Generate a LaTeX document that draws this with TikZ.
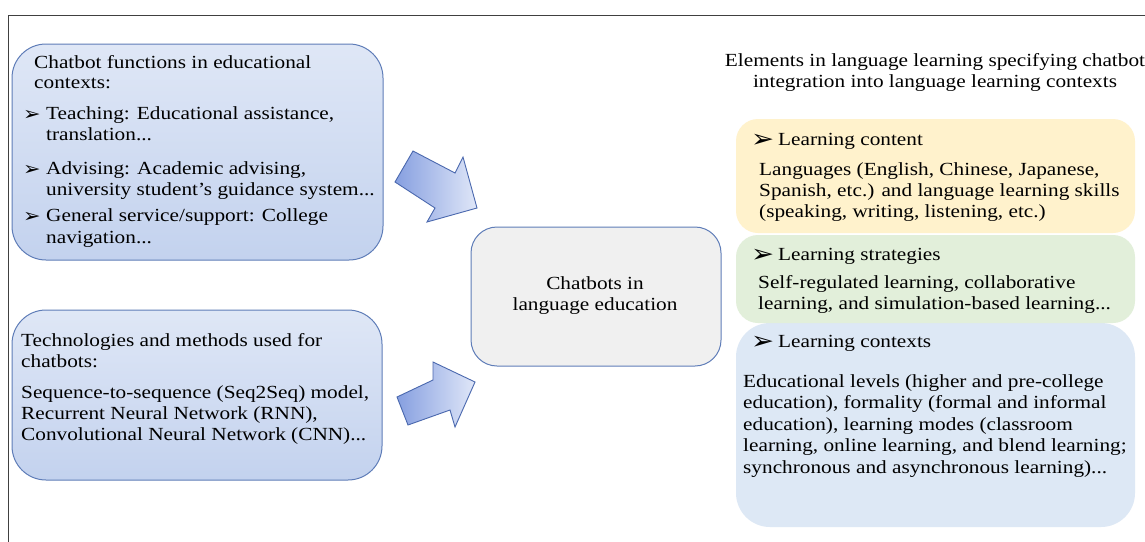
\documentclass[tikz,border=0pt]{standalone}
\usepackage{fontspec}
\setmainfont[FakeStretch=1.15]{Liberation Serif}
\newfontfamily\dejavu[FakeStretch=1.1]{DejaVu Sans}
\definecolor{frame}{HTML}{404040}
\definecolor{boxborder}{HTML}{5F7DB8}
\definecolor{boxtop}{HTML}{DFE7F6}
\definecolor{boxmid}{HTML}{E6ECF8}
\definecolor{boxbot}{HTML}{C3D2EE}
\definecolor{arrdark}{HTML}{869FE0}
\definecolor{arrlight}{HTML}{E0E7F8}
\definecolor{arrborder}{HTML}{4A68AE}
\definecolor{centerfill}{HTML}{F0F0F0}
\definecolor{yel}{HTML}{FFF2CC}
\definecolor{grn}{HTML}{E2EFDA}
\definecolor{blu}{HTML}{DDE8F5}
\tikzset{
  txt/.style={font=\fontsize{18.5}{20}\selectfont, inner sep=0pt, anchor=base west},
  ctxt/.style={txt, anchor=base},
  bul/.style={font=\dejavu\fontsize{19}{19}\selectfont, inner sep=0pt, anchor=base west},
  bbul/.style={font=\dejavu\fontsize{25}{25}\selectfont, inner sep=0pt, anchor=base west},
  bluebox/.style={draw=boxborder, line width=1pt, top color=boxtop, middle color=boxmid, bottom color=boxbot, rounded corners=34pt},
  blockarrow/.style={draw=arrborder, line width=0.9pt, left color=arrdark, right color=arrlight, line join=miter},
}
\begin{document}
\begin{tikzpicture}[x=1pt,y=-1pt]
\useasboundingbox (0,0) rectangle (1145,541);
\clip (0,0) rectangle (1145,541);
\fill[white] (0,0) rectangle (1145,541);
% outer frame
\draw[frame, line width=0.9pt] (8.5,15) rectangle (1160,560);

% left boxes
\path[bluebox] (12,44) rectangle (383,260);
\path[bluebox] (12,310) rectangle (382,480);
% center box
\path[draw=boxborder, line width=1pt, fill=centerfill, rounded corners=26pt] (471,227) rectangle (721,366);

% right boxes
\fill[blu, rounded corners=34pt] (736,323) rectangle (1135,527);
\fill[grn, rounded corners=22pt] (736,235) rectangle (1135,323);
\fill[yel, rounded corners=22pt] (736,119) rectangle (1135,233);

% block arrows
\path[blockarrow] (395,182) -- (413,151) -- (455,173) -- (463,157) -- (477,208) -- (427,222) -- (435,208) -- cycle;
\path[blockarrow] (397,397) -- (433,380) -- (433,362) -- (475,382) -- (455,427) -- (450,410) -- (408,425) -- cycle;

% box 1 text
\node[txt] (f1) at (34,68) {Chatbot functions in educational};
\node[txt] (f2) at (34,88) {contexts:};
\node[bul] (f3b) at (23,120) {➢};
\node[txt] (f3) at (46,119.5) {Teaching: Educational assistance,};
\node[txt] (f4) at (46,140) {translation...};
\node[bul] (f5b) at (23,175) {➢};
\node[txt] (f5) at (46,174.5) {Advising: Academic advising,};
\node[txt] (f6) at (46,195) {university student’s guidance system...};
\node[bul] (f7b) at (23,222) {➢};
\node[txt] (f7) at (46,221.5) {General service/support: College};
\node[txt] (f8) at (46,243) {navigation...};

% box 2 text
\node[txt] (t1) at (21,346) {Technologies and methods used for};
\node[txt] (t2) at (21,367) {chatbots:};
\node[txt] (t3) at (21,398) {Sequence-to-sequence (Seq2Seq) model,};
\node[txt] (t4) at (21,419) {Recurrent Neural Network (RNN),};
\node[txt] (t5) at (21,440) {Convolutional Neural Network (CNN)...};

% center text
\node[ctxt] (c1) at (595,289) {Chatbots in};
\node[ctxt] (c2) at (595,310) {language education};

% title
\node[ctxt] (h1) at (935,66) {Elements in language learning specifying chatbot};
\node[ctxt] (h2) at (935,87) {integration into language learning contexts};

% yellow
\node[bbul] (y0b) at (751,147) {➢};
\node[txt] (y0) at (778,145) {Learning content};
\node[txt] (y1) at (759,175) {Languages (English, Chinese, Japanese,};
\node[txt] (y2) at (759,196) {Spanish, etc.) and language learning skills};
\node[txt] (y3) at (759,217) {(speaking, writing, listening, etc.)};

% green
\node[bbul] (g0b) at (751,262) {➢};
\node[txt] (g0) at (778,260) {Learning strategies};
\node[txt] (g1) at (758,288) {Self-regulated learning, collaborative};
\node[txt] (g2) at (758,309) {learning, and simulation-based learning...};

% blue
\node[bbul] (l0b) at (751,349) {➢};
\node[txt] (l0) at (778,347) {Learning contexts};
\node[txt] (l1) at (743,387) {Educational levels (higher and pre-college};
\node[txt] (l2) at (743,408) {education), formality (formal and informal};
\node[txt] (l3) at (743,430) {education), learning modes (classroom};
\node[txt] (l4) at (743,451) {learning, online learning, and blend learning;};
\node[txt] (l5) at (743,473) {synchronous and asynchronous learning)...};
\end{tikzpicture}
\end{document}
